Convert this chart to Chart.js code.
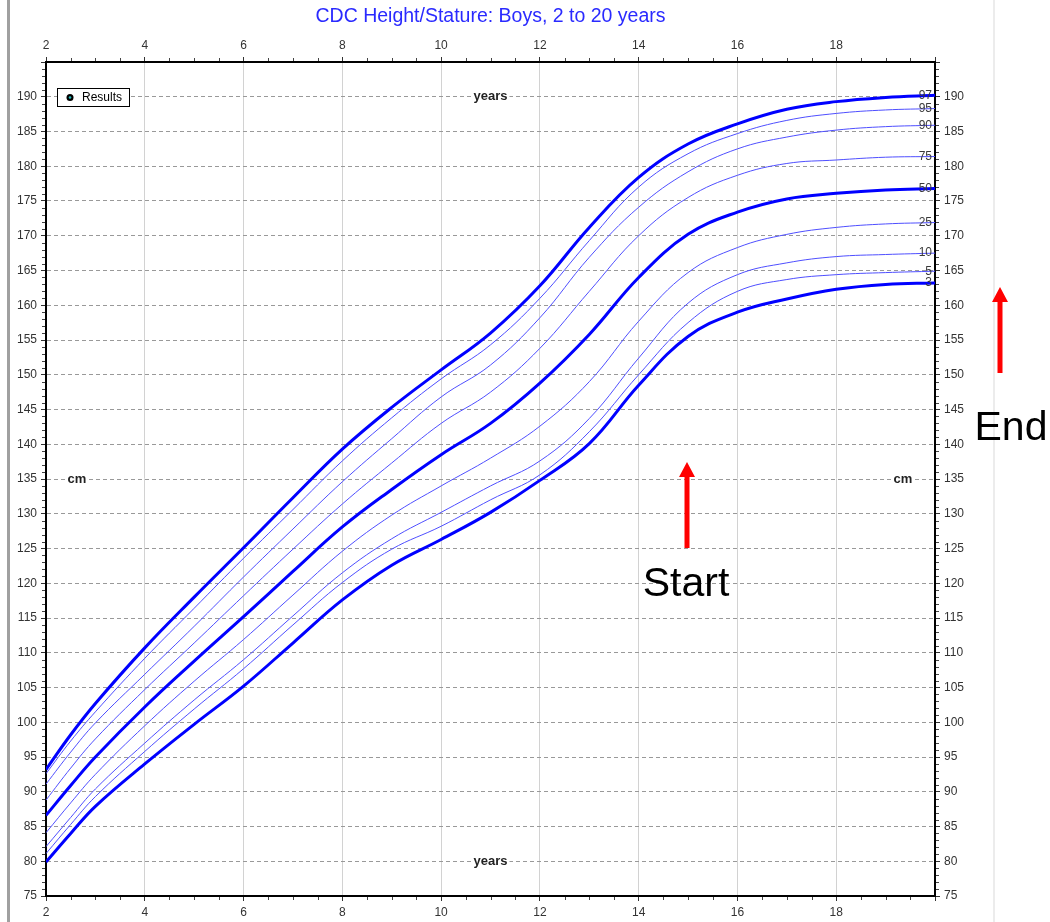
<!DOCTYPE html>
<html>
<head>
<meta charset="utf-8">
<title>CDC Height/Stature: Boys, 2 to 20 years</title>
<script src="https://cdn.jsdelivr.net/npm/chart.js@4.4.1/dist/chart.umd.min.js"></script>
<style>
    html, body { margin: 0; padding: 0; background: #fff; }
    #grafica { display: block; }
</style>
</head>
<body>
<canvas id="grafica" width="1050" height="922"></canvas>
<script>
// Edades (años) y percentiles de estatura (cm)
const edades = [2, 2.5, 3, 4, 5, 6, 7, 8, 9, 10, 11, 12, 13, 14, 15, 16, 17, 18, 19, 20];
const p97 = [93.2, 98.2, 102.7, 110.7, 118.0, 125.1, 132.3, 139.3, 145.3, 150.7, 156.0, 162.8, 171.2, 178.4, 183.2, 186.1, 188.2, 189.3, 189.9, 190.2];
const p95 = [92.6, 97.3, 101.5, 109.2, 116.4, 123.6, 130.6, 137.6, 143.8, 149.4, 154.3, 161.0, 169.3, 177.0, 181.8, 184.7, 186.6, 187.6, 188.1, 188.3];
const p90 = [91.1, 95.7, 99.9, 106.9, 113.8, 120.9, 127.8, 134.6, 140.8, 146.8, 151.4, 158.2, 166.9, 174.1, 179.2, 182.5, 184.2, 185.2, 185.7, 185.9];
const p75 = [88.8, 93.4, 97.6, 104.7, 111.4, 118.2, 124.9, 131.4, 137.3, 143.0, 147.5, 153.8, 162.0, 170.0, 175.5, 178.7, 180.4, 180.9, 181.3, 181.4];
const p50 = [86.6, 90.9, 95.0, 102.2, 108.8, 115.2, 121.7, 128.1, 133.5, 138.5, 143.0, 148.8, 155.8, 164.0, 170.2, 173.4, 175.3, 176.1, 176.6, 176.8];
const p25 = [84.1, 88.4, 92.5, 99.5, 105.9, 111.9, 118.3, 124.6, 129.8, 134.0, 138.0, 142.6, 149.0, 157.7, 164.7, 168.3, 170.2, 171.2, 171.7, 171.9];
const p10 = [82.1, 86.3, 90.4, 97.0, 103.2, 109.0, 115.3, 121.5, 126.4, 130.2, 134.0, 137.6, 143.7, 152.4, 160.3, 164.4, 166.1, 167.0, 167.3, 167.5];
const p5 = [81.1, 85.3, 89.3, 95.8, 101.9, 107.7, 114.0, 120.1, 124.9, 128.2, 132.0, 135.6, 141.8, 150.0, 157.5, 162.0, 163.7, 164.4, 164.7, 164.9];
const p3 = [79.9, 84.0, 87.9, 94.0, 99.7, 105.2, 111.4, 117.6, 122.6, 126.3, 130.2, 134.8, 140.1, 148.5, 155.5, 159.0, 160.9, 162.3, 163.0, 163.2];

const etiquetas = ['97', '95', '90', '75', '50', '25', '10', '5', '3'];
const series = [p97, p95, p90, p75, p50, p25, p10, p5, p3];
const gruesas = ['97', '50', '3'];

const titulo = 'CDC Height/Stature: Boys, 2 to 20 years';
const edadMin = 2, edadMax = 20;
const cmMin = 75, cmMax = 195;

Chart.defaults.font.family = '"Liberation Sans", Arial, sans-serif';
Chart.defaults.font.size = 12;
Chart.defaults.color = '#333';

const flecha = (ctx, x, yPunta, yBase) => {
    ctx.fillStyle = '#ff0000';
    ctx.fillRect(x - 2.5, yPunta + 14, 5, yBase - yPunta - 14);
    ctx.beginPath();
    ctx.moveTo(x, yPunta);
    ctx.lineTo(x + 8, yPunta + 15);
    ctx.lineTo(x - 8, yPunta + 15);
    ctx.closePath();
    ctx.fill();
};

const etiquetaBlanca = (ctx, texto, x, y) => {
    ctx.font = 'bold 13px "Liberation Sans", Arial, sans-serif';
    const w = ctx.measureText(texto).width;
    ctx.fillStyle = '#fff';
    ctx.fillRect(x - w / 2 - 2, y - 6, w + 4, 12);
    ctx.fillStyle = '#222';
    ctx.textAlign = 'center';
    ctx.textBaseline = 'middle';
    ctx.fillText(texto, x, y);
};

const extras = {
    id: 'extras',
    beforeDraw(chart) {
        const ctx = chart.ctx;
        ctx.save();
        ctx.fillStyle = '#fff';
        ctx.fillRect(0, 0, chart.width, chart.height);
        // bordes de la ventana original
        ctx.fillStyle = '#a0a0a0';
        ctx.fillRect(7, 0, 3, chart.height);
        ctx.fillStyle = '#ececec';
        ctx.fillRect(993, 0, 2, chart.height);
        ctx.restore();
    },
    afterDraw(chart) {
        const ctx = chart.ctx;
        const { x, y } = chart.scales;
        const { left, right, top, bottom } = chart.chartArea;
        ctx.save();

        // ticks menores
        ctx.strokeStyle = '#444';
        ctx.lineWidth = 1;
        ctx.beginPath();
        for (let e = edadMin + 0.5; e < edadMax; e += 0.5) {
            if (e % 2 === 0) continue;
            const px = Math.round(x.getPixelForValue(e)) + 0.5;
            ctx.moveTo(px, top - 1); ctx.lineTo(px, top - 4);
            ctx.moveTo(px, bottom + 1); ctx.lineTo(px, bottom + 4);
        }
        for (let v = cmMin + 1; v < cmMax; v++) {
            if (v % 5 === 0) continue;
            const py = Math.round(y.getPixelForValue(v)) + 0.5;
            ctx.moveTo(left - 1, py); ctx.lineTo(left - 4, py);
            ctx.moveTo(right + 1, py); ctx.lineTo(right + 4, py);
        }
        ctx.stroke();

        // etiquetas de percentil al final de cada curva
        ctx.font = '12px "Liberation Sans", Arial, sans-serif';
        ctx.fillStyle = '#3a3a3a';
        ctx.textAlign = 'right';
        ctx.textBaseline = 'middle';
        chart.data.datasets.forEach(ds => {
            const ultimo = ds.data[ds.data.length - 1];
            ctx.fillText(ds.label, right - 3, y.getPixelForValue(ultimo.y));
        });

        // titulo
        ctx.font = '19.5px "Liberation Sans", Arial, sans-serif';
        ctx.fillStyle = '#2a2aff';
        ctx.textAlign = 'center';
        ctx.fillText(titulo, (left + right) / 2, 17);

        // rotulos de ejes dentro del grafico
        const centro = (left + right) / 2;
        etiquetaBlanca(ctx, 'years', centro, y.getPixelForValue(190));
        etiquetaBlanca(ctx, 'years', centro, y.getPixelForValue(80));
        etiquetaBlanca(ctx, 'cm', left + 31, y.getPixelForValue(135));
        etiquetaBlanca(ctx, 'cm', right - 32, y.getPixelForValue(135));

        // caja "Results"
        ctx.fillStyle = '#fff';
        ctx.fillRect(57, 88, 72, 18);
        ctx.strokeStyle = '#000';
        ctx.strokeRect(57.5, 88.5, 72, 18);
        ctx.fillStyle = '#000';
        ctx.beginPath();
        ctx.arc(70, 97.5, 3.5, 0, Math.PI * 2);
        ctx.fill();
        ctx.fillStyle = '#2bb';
        ctx.beginPath();
        ctx.arc(70, 97.5, 1.3, 0, Math.PI * 2);
        ctx.fill();
        ctx.fillStyle = '#000';
        ctx.font = '12px "Liberation Sans", Arial, sans-serif';
        ctx.textAlign = 'left';
        ctx.fillText('Results', 82, 98);

        // flechas y textos rojos
        flecha(ctx, 687, 462, 548);
        flecha(ctx, 1000, 287, 373);
        ctx.fillStyle = '#000';
        ctx.font = '41px "Liberation Sans", Arial, sans-serif';
        ctx.textAlign = 'center';
        ctx.textBaseline = 'alphabetic';
        ctx.fillText('Start', 686, 596);
        ctx.fillText('End', 1011, 440);

        ctx.restore();
    }
};

const datasets = series.map((s, i) => {
    const gruesa = gruesas.includes(etiquetas[i]);
    return {
        label: etiquetas[i],
        data: edades.map((e, j) => ({ x: e, y: s[j] })),
        borderColor: gruesa ? '#0000ff' : '#4f4fff',
        borderWidth: gruesa ? 3 : 1,
        pointRadius: 0,
        tension: 0.4,
        fill: false
    };
});

const ejeX = (posicion, alto, rejilla) => ({
    type: 'linear',
    position: posicion,
    min: edadMin,
    max: edadMax,
    ticks: {
        stepSize: 2,
        autoSkip: false,
        maxRotation: 0,
        padding: 4,
        callback: v => (v < edadMax ? v : '')
    },
    grid: { drawOnChartArea: rejilla, color: '#d2d2d2', tickLength: 5, tickColor: '#333' },
    border: { color: '#000', width: 2 },
    afterFit: s => { s.height = alto; }
});

const ejeY = (posicion, ancho, rejilla) => ({
    type: 'linear',
    position: posicion,
    min: cmMin,
    max: cmMax,
    ticks: {
        stepSize: 5,
        autoSkip: false,
        padding: 4,
        callback: v => (v < cmMax ? v : '')
    },
    grid: { drawOnChartArea: rejilla, color: '#999', tickLength: 5, tickColor: '#333' },
    border: { color: '#000', width: 2, dash: [4, 3] },
    afterFit: s => { s.width = ancho; }
});

new Chart(document.getElementById('grafica').getContext('2d'), {
    type: 'line',
    data: { datasets: datasets },
    options: {
        responsive: false,
        animation: false,
        layout: { padding: 0 },
        plugins: {
            legend: { display: false },
            tooltip: { enabled: false },
            title: { display: false }
        },
        scales: {
            x: ejeX('bottom', 26, true),
            xTop: ejeX('top', 62, false),
            y: ejeY('left', 46, true),
            yRight: ejeY('right', 115, false)
        }
    },
    plugins: [extras]
});
</script>
</body>
</html>
